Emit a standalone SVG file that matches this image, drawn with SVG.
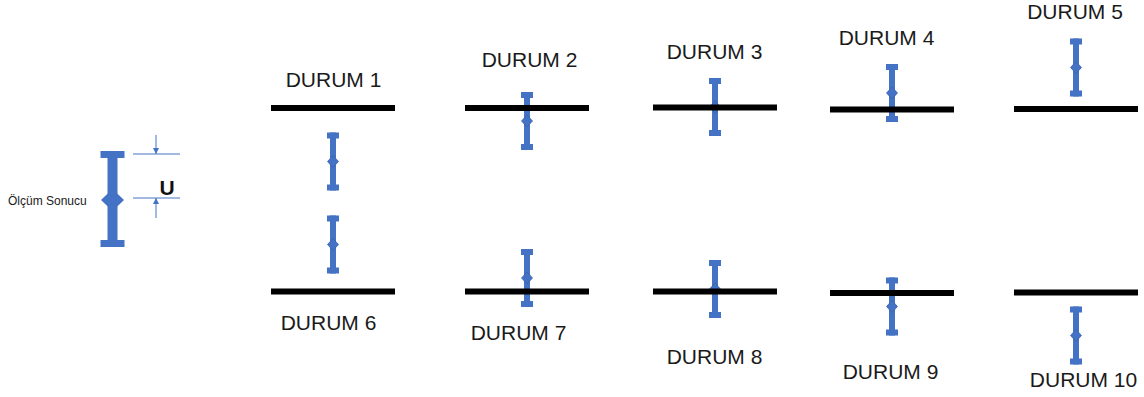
<svg xmlns="http://www.w3.org/2000/svg" width="1144" height="397" viewBox="0 0 1144 397">
<style>
.lbl{font-family:"Liberation Sans",Arial,sans-serif;font-size:21px;fill:#1a1a1a;text-anchor:middle}
.ref{fill:#000}
.eb{fill:#4472C4}
.dim{stroke:#4472C4;stroke-width:1;fill:none}
</style>
<defs>
<g id="bar">
<rect class="eb" x="-3" y="-29" width="6" height="58"/>
<rect class="eb" x="-6" y="-29" width="12" height="6"/>
<rect class="eb" x="-6" y="23" width="12" height="6"/>
<polygon class="eb" points="0,-6 5.5,0 0,6 -5.5,0" stroke="#3b63ae" stroke-width="0.8"/>
</g>
<marker id="ah" viewBox="0 0 10 10" refX="10" refY="5" markerWidth="6" markerHeight="6" orient="auto" markerUnits="userSpaceOnUse">
<path d="M0,0 L10,5 L0,10 z" fill="#4472C4"/>
</marker>
</defs>
<rect width="1144" height="397" fill="#fff"/>

<g id="legend">
<rect class="eb" x="107.5" y="151" width="10" height="93"/>
<rect class="eb" x="100.5" y="151" width="24" height="7"/>
<rect class="eb" x="100.5" y="240" width="24" height="7"/>
<polygon class="eb" points="112.5,189 124,200 112.5,211 101,200"/>
<text x="8" y="205" font-family="'Liberation Sans',Arial,sans-serif" font-size="12" fill="#1a1a1a">Ölçüm Sonucu</text>
<line class="dim" x1="133" y1="154" x2="180" y2="154"/>
<line class="dim" x1="133" y1="198" x2="180" y2="198"/>
<line class="dim" x1="156" y1="135" x2="156" y2="154" marker-end="url(#ah)"/>
<line class="dim" x1="156" y1="218" x2="156" y2="198" marker-end="url(#ah)"/>
<text x="167" y="195" font-family="'Liberation Sans',Arial,sans-serif" font-size="21" font-weight="bold" fill="#111" text-anchor="middle">U</text>
</g>

<g id="durum1">
<use href="#bar" x="333" y="161.5"/>
<rect class="ref" x="271" y="105" width="124" height="6"/>
<text class="lbl" x="333.5" y="87">DURUM 1</text>
</g>
<g id="durum6">
<use href="#bar" x="333" y="244.5"/>
<rect class="ref" x="271" y="288.5" width="124" height="6"/>
<text class="lbl" x="328.5" y="330">DURUM 6</text>
</g>
<g id="durum2">
<use href="#bar" x="527" y="121"/>
<rect class="ref" x="465" y="105" width="124" height="6"/>
<text class="lbl" x="529.5" y="67">DURUM 2</text>
</g>
<g id="durum7">
<use href="#bar" x="527" y="278"/>
<rect class="ref" x="465" y="288.5" width="124" height="6"/>
<text class="lbl" x="518.5" y="340">DURUM 7</text>
</g>
<g id="durum3">
<use href="#bar" x="715" y="107"/>
<rect class="ref" x="653" y="104.5" width="124" height="6"/>
<text class="lbl" x="714.5" y="59">DURUM 3</text>
</g>
<g id="durum8">
<use href="#bar" x="715" y="289"/>
<rect class="ref" x="653" y="288.5" width="124" height="6"/>
<text class="lbl" x="714.5" y="364">DURUM 8</text>
</g>
<g id="durum4">
<use href="#bar" x="892" y="93"/>
<rect class="ref" x="830" y="106.5" width="124" height="6"/>
<text class="lbl" x="886.5" y="45">DURUM 4</text>
</g>
<g id="durum9">
<use href="#bar" x="892" y="306.5"/>
<rect class="ref" x="830" y="290" width="124" height="6"/>
<text class="lbl" x="890.5" y="379">DURUM 9</text>
</g>
<g id="durum5">
<use href="#bar" x="1076" y="67.5"/>
<rect class="ref" x="1014" y="106" width="124" height="6"/>
<text class="lbl" x="1075" y="19">DURUM 5</text>
</g>
<g id="durum10">
<use href="#bar" x="1076" y="335.5"/>
<rect class="ref" x="1014" y="289.5" width="124" height="6"/>
<text class="lbl" x="1083.5" y="387">DURUM 10</text>
</g>
</svg>
